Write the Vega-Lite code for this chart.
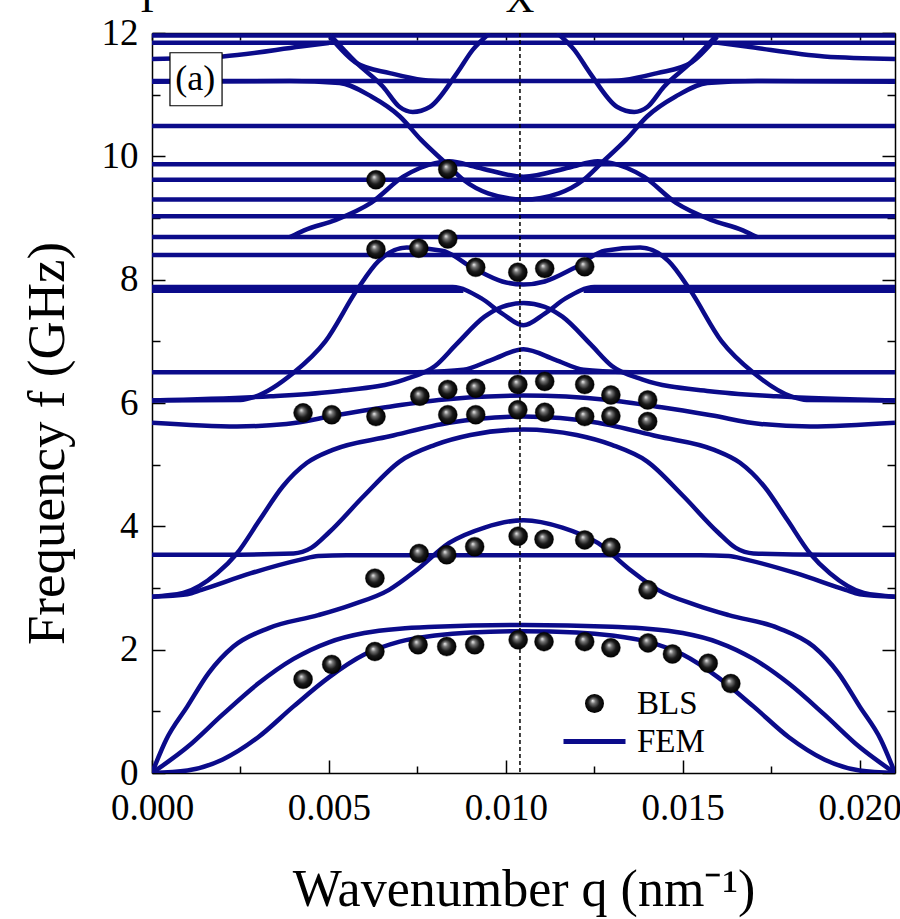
{
"$schema": "https://vega.github.io/schema/vega-lite/v6.json",
"width": 743, "height": 740,
"autosize": {"type": "none"},
"padding": {"left": 152, "top": 33, "right": 5, "bottom": 146},
"background": "white",
"config": {"view": {"stroke": null}, "font": "Liberation Serif",
"axis": {"labelFont": "Liberation Serif", "titleFont": "Liberation Serif"},
"legend": {"labelFont": "Liberation Serif", "titleFont": "Liberation Serif"},
"text": {"font": "Liberation Serif"}},
"datasets": {
"fem": [
{"p":"b1","q":0,"f":0},{"p":"b1","q":0.001,"f":0.04},{"p":"b1","q":0.002,"f":0.22},{"p":"b1","q":0.003,"f":0.58},{"p":"b1","q":0.004,"f":1.08},{"p":"b1","q":0.005,"f":1.55},{"p":"b1","q":0.006,"f":1.92},{"p":"b1","q":0.007,"f":2.13},{"p":"b1","q":0.008,"f":2.23},{"p":"b1","q":0.009,"f":2.28},{"p":"b1","q":0.0105,"f":2.30},{"p":"b1","q":0.012,"f":2.28},{"p":"b1","q":0.013,"f":2.23},{"p":"b1","q":0.014,"f":2.13},{"p":"b1","q":0.015,"f":1.92},{"p":"b1","q":0.016,"f":1.55},{"p":"b1","q":0.017,"f":1.08},{"p":"b1","q":0.018,"f":0.58},{"p":"b1","q":0.019,"f":0.22},{"p":"b1","q":0.020,"f":0.04},{"p":"b1","q":0.021,"f":0},
{"p":"b2","q":0,"f":0},{"p":"b2","q":0.001,"f":0.42},{"p":"b2","q":0.002,"f":0.95},{"p":"b2","q":0.003,"f":1.45},{"p":"b2","q":0.004,"f":1.85},{"p":"b2","q":0.005,"f":2.12},{"p":"b2","q":0.006,"f":2.27},{"p":"b2","q":0.007,"f":2.34},{"p":"b2","q":0.008,"f":2.37},{"p":"b2","q":0.0105,"f":2.40},{"p":"b2","q":0.013,"f":2.37},{"p":"b2","q":0.014,"f":2.34},{"p":"b2","q":0.015,"f":2.27},{"p":"b2","q":0.016,"f":2.12},{"p":"b2","q":0.017,"f":1.85},{"p":"b2","q":0.018,"f":1.45},{"p":"b2","q":0.019,"f":0.95},{"p":"b2","q":0.020,"f":0.42},{"p":"b2","q":0.021,"f":0},
{"p":"b3","q":0,"f":0},{"p":"b3","q":0.0004,"f":0.54},{"p":"b3","q":0.001,"f":1.08},{"p":"b3","q":0.0016,"f":1.62},{"p":"b3","q":0.0023,"f":2.05},{"p":"b3","q":0.0033,"f":2.35},{"p":"b3","q":0.0047,"f":2.56},{"p":"b3","q":0.0056,"f":2.72},{"p":"b3","q":0.0067,"f":2.97},{"p":"b3","q":0.0075,"f":3.30},{"p":"b3","q":0.0084,"f":3.73},{"p":"b3","q":0.0094,"f":3.98},{"p":"b3","q":0.0105,"f":4.10},{"p":"b3","q":0.0116,"f":3.98},{"p":"b3","q":0.0126,"f":3.73},{"p":"b3","q":0.0135,"f":3.30},{"p":"b3","q":0.0143,"f":2.97},{"p":"b3","q":0.0154,"f":2.72},{"p":"b3","q":0.0163,"f":2.56},{"p":"b3","q":0.0177,"f":2.35},{"p":"b3","q":0.0187,"f":2.05},{"p":"b3","q":0.0194,"f":1.62},{"p":"b3","q":0.020,"f":1.08},{"p":"b3","q":0.0206,"f":0.54},{"p":"b3","q":0.021,"f":0},
{"p":"b4","q":0,"f":2.86},{"p":"b4","q":0.001,"f":2.90},{"p":"b4","q":0.0014,"f":2.97},{"p":"b4","q":0.0028,"f":3.24},{"p":"b4","q":0.0042,"f":3.46},{"p":"b4","q":0.0047,"f":3.52},{"p":"b4","q":0.0055,"f":3.53},{"p":"b4","q":0.0155,"f":3.53},{"p":"b4","q":0.0163,"f":3.52},{"p":"b4","q":0.0168,"f":3.46},{"p":"b4","q":0.0182,"f":3.24},{"p":"b4","q":0.0196,"f":2.97},{"p":"b4","q":0.020,"f":2.90},{"p":"b4","q":0.021,"f":2.86},
{"p":"b5","q":0,"f":3.54},{"p":"b5","q":0.002,"f":3.54},{"p":"b5","q":0.004,"f":3.56},{"p":"b5","q":0.0045,"f":3.65},{"p":"b5","q":0.005,"f":3.90},{"p":"b5","q":0.006,"f":4.50},{"p":"b5","q":0.007,"f":5.05},{"p":"b5","q":0.008,"f":5.32},{"p":"b5","q":0.009,"f":5.48},{"p":"b5","q":0.0105,"f":5.57},{"p":"b5","q":0.012,"f":5.48},{"p":"b5","q":0.013,"f":5.32},{"p":"b5","q":0.014,"f":5.05},{"p":"b5","q":0.015,"f":4.50},{"p":"b5","q":0.016,"f":3.90},{"p":"b5","q":0.0165,"f":3.65},{"p":"b5","q":0.017,"f":3.56},{"p":"b5","q":0.019,"f":3.54},{"p":"b5","q":0.021,"f":3.54},
{"p":"b6","q":0,"f":2.86},{"p":"b6","q":0.00088,"f":2.92},{"p":"b6","q":0.00184,"f":3.24},{"p":"b6","q":0.0024,"f":3.56},{"p":"b6","q":0.00305,"f":4.11},{"p":"b6","q":0.0037,"f":4.65},{"p":"b6","q":0.00438,"f":5.03},{"p":"b6","q":0.00511,"f":5.24},{"p":"b6","q":0.00672,"f":5.46},{"p":"b6","q":0.0084,"f":5.68},{"p":"b6","q":0.0105,"f":5.78},{"p":"b6","q":0.0126,"f":5.68},{"p":"b6","q":0.01428,"f":5.46},{"p":"b6","q":0.01589,"f":5.24},{"p":"b6","q":0.01662,"f":5.03},{"p":"b6","q":0.0173,"f":4.65},{"p":"b6","q":0.01795,"f":4.11},{"p":"b6","q":0.0186,"f":3.56},{"p":"b6","q":0.01916,"f":3.24},{"p":"b6","q":0.02012,"f":2.92},{"p":"b6","q":0.021,"f":2.86},
{"p":"b7","q":0,"f":5.68},{"p":"b7","q":0.0024,"f":5.62},{"p":"b7","q":0.0038,"f":5.66},{"p":"b7","q":0.0052,"f":5.80},{"p":"b7","q":0.0066,"f":5.93},{"p":"b7","q":0.0081,"f":6.05},{"p":"b7","q":0.0105,"f":6.12},{"p":"b7","q":0.0129,"f":6.05},{"p":"b7","q":0.0144,"f":5.93},{"p":"b7","q":0.0158,"f":5.80},{"p":"b7","q":0.0172,"f":5.66},{"p":"b7","q":0.0186,"f":5.62},{"p":"b7","q":0.021,"f":5.68},
{"p":"f65","q":0,"f":6.50},{"p":"f65","q":0.021,"f":6.50},
{"p":"bA","q":0,"f":6.04},{"p":"bA","q":0.0025,"f":6.05},{"p":"bA","q":0.0029,"f":6.10},{"p":"bA","q":0.004,"f":6.49},{"p":"bA","q":0.0049,"f":7.0},{"p":"bA","q":0.0058,"f":7.84},{"p":"bA","q":0.0064,"f":8.30},{"p":"bA","q":0.0072,"f":8.52},{"p":"bA","q":0.0082,"f":8.47},{"p":"bA","q":0.0091,"f":8.18},{"p":"bA","q":0.0099,"f":7.97},{"p":"bA","q":0.0105,"f":7.92},{"p":"bA","q":0.0111,"f":7.97},{"p":"bA","q":0.0119,"f":8.18},{"p":"bA","q":0.0128,"f":8.47},{"p":"bA","q":0.0138,"f":8.52},{"p":"bA","q":0.0146,"f":8.30},{"p":"bA","q":0.0152,"f":7.84},{"p":"bA","q":0.0161,"f":7.0},{"p":"bA","q":0.017,"f":6.49},{"p":"bA","q":0.0181,"f":6.10},{"p":"bA","q":0.0185,"f":6.05},{"p":"bA","q":0.021,"f":6.04},
{"p":"bB","q":0,"f":6.04},{"p":"bB","q":0.00335,"f":6.11},{"p":"bB","q":0.00524,"f":6.19},{"p":"bB","q":0.00713,"f":6.38},{"p":"bB","q":0.008,"f":6.60},{"p":"bB","q":0.0086,"f":6.95},{"p":"bB","q":0.0094,"f":7.40},{"p":"bB","q":0.0099,"f":7.56},{"p":"bB","q":0.0105,"f":7.62},{"p":"bB","q":0.0111,"f":7.56},{"p":"bB","q":0.0116,"f":7.40},{"p":"bB","q":0.0124,"f":6.95},{"p":"bB","q":0.013,"f":6.60},{"p":"bB","q":0.01387,"f":6.38},{"p":"bB","q":0.01576,"f":6.19},{"p":"bB","q":0.01765,"f":6.11},{"p":"bB","q":0.021,"f":6.04},
{"p":"hump","q":0.0075,"f":6.50},{"p":"hump","q":0.0088,"f":6.54},{"p":"hump","q":0.0096,"f":6.70},{"p":"hump","q":0.0105,"f":6.87},{"p":"hump","q":0.0114,"f":6.70},{"p":"hump","q":0.0122,"f":6.54},{"p":"hump","q":0.0135,"f":6.50},
{"p":"bC","q":0,"f":7.88},{"p":"bC","q":0.0085,"f":7.88},{"p":"bC","q":0.0093,"f":7.70},{"p":"bC","q":0.0099,"f":7.45},{"p":"bC","q":0.0105,"f":7.26},{"p":"bC","q":0.0111,"f":7.45},{"p":"bC","q":0.0117,"f":7.70},{"p":"bC","q":0.0125,"f":7.88},{"p":"bC","q":0.021,"f":7.88},
{"p":"f782a","q":0,"f":7.82},{"p":"f782a","q":0.0088,"f":7.82},
{"p":"f782b","q":0.0122,"f":7.82},{"p":"f782b","q":0.021,"f":7.82},
{"p":"f840","q":0,"f":8.40},{"p":"f840","q":0.021,"f":8.40},
{"p":"f869","q":0,"f":8.69},{"p":"f869","q":0.021,"f":8.69},
{"p":"bE","q":0.0039,"f":8.69},{"p":"bE","q":0.0043,"f":8.80},{"p":"bE","q":0.0052,"f":8.97},{"p":"bE","q":0.0062,"f":9.25},{"p":"bE","q":0.0071,"f":9.67},{"p":"bE","q":0.008,"f":9.89},{"p":"bE","q":0.0084,"f":9.92},{"p":"bE","q":0.0092,"f":9.82},{"p":"bE","q":0.0105,"f":9.67},{"p":"bE","q":0.0118,"f":9.82},{"p":"bE","q":0.0126,"f":9.92},{"p":"bE","q":0.013,"f":9.89},{"p":"bE","q":0.0139,"f":9.67},{"p":"bE","q":0.0148,"f":9.25},{"p":"bE","q":0.0158,"f":8.97},{"p":"bE","q":0.0167,"f":8.80},{"p":"bE","q":0.0171,"f":8.69},
{"p":"f903","q":0,"f":9.03},{"p":"f903","q":0.021,"f":9.03},
{"p":"f930","q":0,"f":9.30},{"p":"f930","q":0.021,"f":9.30},
{"p":"f962","q":0,"f":9.62},{"p":"f962","q":0.021,"f":9.62},
{"p":"f987","q":0,"f":9.87},{"p":"f987","q":0.021,"f":9.87},
{"p":"f1049","q":0,"f":10.49},{"p":"f1049","q":0.021,"f":10.49},
{"p":"f1122","q":0,"f":11.22},{"p":"f1122","q":0.021,"f":11.22},
{"p":"bD","q":0,"f":11.21},{"p":"bD","q":0.0039,"f":11.22},{"p":"bD","q":0.0053,"f":11.19},{"p":"bD","q":0.0062,"f":10.97},{"p":"bD","q":0.007,"f":10.65},{"p":"bD","q":0.0076,"f":10.27},{"p":"bD","q":0.0083,"f":9.89},{"p":"bD","q":0.0088,"f":9.62},{"p":"bD","q":0.0095,"f":9.40},{"p":"bD","q":0.0105,"f":9.30},{"p":"bD","q":0.0115,"f":9.40},{"p":"bD","q":0.0122,"f":9.62},{"p":"bD","q":0.0127,"f":9.89},{"p":"bD","q":0.0134,"f":10.27},{"p":"bD","q":0.014,"f":10.65},{"p":"bD","q":0.0148,"f":10.97},{"p":"bD","q":0.0157,"f":11.19},{"p":"bD","q":0.0171,"f":11.22},{"p":"bD","q":0.021,"f":11.21},
{"p":"bU1","q":0.00503,"f":11.97},{"p":"bU1","q":0.00579,"f":11.51},{"p":"bU1","q":0.00653,"f":11.13},{"p":"bU1","q":0.007,"f":10.80},{"p":"bU1","q":0.00737,"f":10.72},{"p":"bU1","q":0.00785,"f":10.80},{"p":"bU1","q":0.00862,"f":11.35},{"p":"bU1","q":0.00907,"f":11.73},{"p":"bU1","q":0.00955,"f":12.0},
{"p":"bU2","q":0.01145,"f":12.0},{"p":"bU2","q":0.01193,"f":11.73},{"p":"bU2","q":0.01238,"f":11.35},{"p":"bU2","q":0.01315,"f":10.80},{"p":"bU2","q":0.01363,"f":10.72},{"p":"bU2","q":0.014,"f":10.80},{"p":"bU2","q":0.01447,"f":11.13},{"p":"bU2","q":0.01521,"f":11.51},{"p":"bU2","q":0.01597,"f":11.97},
{"p":"bT1","q":0.00503,"f":11.94},{"p":"bT1","q":0.00579,"f":11.51},{"p":"bT1","q":0.00672,"f":11.35},{"p":"bT1","q":0.00766,"f":11.24},{"p":"bT1","q":0.0084,"f":11.22},
{"p":"bT2","q":0.0126,"f":11.22},{"p":"bT2","q":0.01334,"f":11.24},{"p":"bT2","q":0.01428,"f":11.35},{"p":"bT2","q":0.01521,"f":11.51},{"p":"bT2","q":0.01597,"f":11.94},
{"p":"bL1","q":0,"f":11.58},{"p":"bL1","q":0.002,"f":11.62},{"p":"bL1","q":0.0042,"f":11.78},{"p":"bL1","q":0.005,"f":11.84},
{"p":"bL2","q":0.016,"f":11.84},{"p":"bL2","q":0.0168,"f":11.78},{"p":"bL2","q":0.019,"f":11.62},{"p":"bL2","q":0.021,"f":11.58},
{"p":"f1184","q":0,"f":11.84},{"p":"f1184","q":0.021,"f":11.84},
{"p":"f1196","q":0,"f":11.96},{"p":"f1196","q":0.021,"f":11.96}
],
"bls": [
{"q":0.00427,"f":1.52},{"q":0.00508,"f":1.76},{"q":0.0063,"f":1.97},{"q":0.00752,"f":2.08},{"q":0.00833,"f":2.05},{"q":0.00912,"f":2.08},{"q":0.01035,"f":2.16},{"q":0.01108,"f":2.13},{"q":0.01223,"f":2.13},{"q":0.01297,"f":2.03},{"q":0.01402,"f":2.11},{"q":0.01471,"f":1.93},{"q":0.01572,"f":1.78},{"q":0.01636,"f":1.45},
{"q":0.0063,"f":3.16},{"q":0.00755,"f":3.56},{"q":0.00833,"f":3.54},{"q":0.00912,"f":3.67},{"q":0.01035,"f":3.84},{"q":0.01108,"f":3.79},{"q":0.01223,"f":3.78},{"q":0.01297,"f":3.66},{"q":0.01402,"f":2.97},
{"q":0.00427,"f":5.84},{"q":0.00508,"f":5.81},{"q":0.00633,"f":5.78},{"q":0.00836,"f":5.81},{"q":0.00915,"f":5.81},{"q":0.01034,"f":5.89},{"q":0.0111,"f":5.85},{"q":0.01223,"f":5.78},{"q":0.01297,"f":5.79},{"q":0.01401,"f":5.70},
{"q":0.00757,"f":6.11},{"q":0.00836,"f":6.22},{"q":0.00915,"f":6.24},{"q":0.01034,"f":6.30},{"q":0.0111,"f":6.35},{"q":0.01223,"f":6.30},{"q":0.01297,"f":6.13},{"q":0.01401,"f":6.05},
{"q":0.00633,"f":8.49},{"q":0.00754,"f":8.51},{"q":0.00836,"f":8.66},{"q":0.00915,"f":8.20},{"q":0.01034,"f":8.12},{"q":0.0111,"f":8.18},{"q":0.01223,"f":8.21},
{"q":0.00633,"f":9.62},{"q":0.00836,"f":9.79}
]
},
"layer": [
{
"data": {"name": "fem"},
"mark": {"type": "line", "strokeWidth": 4.5, "interpolate": "monotone", "clip": true},
"encoding": {
"x": {"field": "q", "type": "quantitative", "scale": {"domain": [0, 0.021], "nice": false, "zero": false},
"axis": {"orient": "bottom", "values": [0,0.0025,0.005,0.0075,0.01,0.0125,0.015,0.0175,0.02],
"labelExpr": "round(datum.value*400) % 2 === 0 ? format(datum.value, '.3f') : ''",
"tickSize": {"condition": {"test": "round(datum.value*400) % 2 === 0", "value": -13}, "value": -7},
"tickColor": "black", "tickWidth": 1.5, "domainColor": "black", "domainWidth": 1.5, "grid": false,
"labelFont": "Liberation Serif", "labelFontSize": 37, "labelColor": "black", "labelPadding": 30, "labelDx": -8,
"labelOverlap": false, "labelFlush": false, "labelBound": false,
"title": "Wavenumber q (nm⁻¹)", "titleFont": "Liberation Serif", "titleFontSize": 52, "titleFontWeight": "normal", "titleColor": "black",
"titleBaseline": "alphabetic", "titleY": 132, "titleX": 371.5, "titleAlign": "center"}},
"y": {"field": "f", "type": "quantitative", "scale": {"domain": [0, 12], "nice": false, "zero": false},
"axis": {"orient": "left", "values": [0,1,2,3,4,5,6,7,8,9,10,11,12],
"labelExpr": "datum.value % 2 === 0 ? datum.label : ''",
"tickSize": {"condition": {"test": "datum.value % 2 === 0", "value": -13}, "value": -8},
"tickColor": "black", "tickWidth": 1.5, "domainColor": "black", "domainWidth": 1.5, "grid": false,
"labelFont": "Liberation Serif", "labelFontSize": 37, "labelColor": "black", "labelPadding": 27,
"labelOverlap": false, "labelFlush": false, "labelBound": false,
"title": "Frequency f (GHz)", "titleFont": "Liberation Serif", "titleFontSize": 53, "titleFontWeight": "normal", "titleColor": "black",
"titleBaseline": "alphabetic", "titleAngle": -90, "titleX": -89, "titleY": 410, "titleAlign": "center"}},
"detail": {"field": "p"},
"stroke": {"datum": "FEM", "type": "nominal", "scale": {"domain": ["BLS", "FEM"], "range": ["#000000", "#0b0b8a"]},
"legend": {"orient": "none", "legendX": 426, "legendY": 654, "title": null,
"labelFont": "Liberation Serif", "labelFontSize": 33, "labelColor": "black", "labelOffset": 26,
"symbolSize": 400, "symbolStrokeWidth": 1.5, "rowPadding": 4, "padding": 0,
"encode": {"symbols": {"update": {
"shape": {"signal": "datum.value === 'FEM' ? 'stroke' : 'circle'"},
"size": {"signal": "datum.value === 'FEM' ? 3844 : 361"},
"strokeWidth": {"signal": "datum.value === 'FEM' ? 5 : 0"},
"stroke": {"signal": "datum.value === 'FEM' ? '#0b0b8a' : 'black'"},
"fill": {"signal": "datum.value === 'FEM' ? 'transparent' : {gradient: 'radial', x1: 0.4, y1: 0.35, r1: 0, x2: 0.5, y2: 0.5, r2: 0.5, stops: [{offset: 0, color: '#f5f5f5'}, {offset: 0.25, color: '#777777'}, {offset: 0.6, color: '#1a1a1a'}, {offset: 1, color: '#000000'}]}"},
"opacity": {"value": 1}
}},
"labels": {"update": {"font": {"value": "Liberation Serif"}}}}}}
}
},
{
"data": {"values": [{}]},
"mark": {"type": "rule", "strokeDash": [4, 3], "strokeWidth": 1.5, "color": "black"},
"encoding": {"x": {"datum": 0.0104, "type": "quantitative", "axis": null}}
},
{
"data": {"name": "bls"},
"mark": {"type": "point", "filled": true, "size": 361, "opacity": 1, "strokeWidth": 0.4,
"fill": {"gradient": "radial", "x1": 0.4, "y1": 0.35, "r1": 0, "x2": 0.5, "y2": 0.5, "r2": 0.5,
"stops": [{"offset": 0, "color": "#f5f5f5"}, {"offset": 0.25, "color": "#777777"}, {"offset": 0.6, "color": "#1a1a1a"}, {"offset": 1, "color": "#000000"}]}},
"encoding": {
"x": {"field": "q", "type": "quantitative", "axis": {"orient": "top", "values": [0,0.0025,0.005,0.0075,0.01,0.0125,0.015,0.0175,0.02], "labels": false, "title": null, "tickSize": -7, "tickColor": "black", "tickWidth": 1.5, "domainColor": "black", "domainWidth": 1.5, "grid": false}},
"y": {"field": "f", "type": "quantitative", "axis": {"orient": "right", "values": [0,1,2,3,4,5,6,7,8,9,10,11,12], "labels": false, "title": null, "tickSize": {"condition": {"test": "datum.value % 2 === 0", "value": -13}, "value": -8}, "tickColor": "black", "tickWidth": 1.5, "domainColor": "black", "domainWidth": 1.5, "grid": false}},
"stroke": {"datum": "BLS", "type": "nominal"}
}
},
{
"data": {"values": [{}]},
"mark": {"type": "rect", "fill": "white", "stroke": "black", "strokeWidth": 1.2},
"encoding": {"x": {"datum": 0.000508, "type": "quantitative", "axis": null}, "x2": {"datum": 0.00198}, "y": {"datum": 11.68, "type": "quantitative", "axis": null}, "y2": {"datum": 10.82}}
},
{
"data": {"values": [{}]},
"mark": {"type": "text", "text": "(a)", "font": "Liberation Serif", "fontSize": 36, "align": "center", "baseline": "middle", "color": "black"},
"encoding": {"x": {"datum": 0.00122, "type": "quantitative", "axis": null}, "y": {"datum": 11.25, "type": "quantitative", "axis": null}}
},
{
"data": {"values": [{}]},
"mark": {"type": "text", "text": "X", "font": "Liberation Serif", "fontSize": 40, "align": "center", "baseline": "alphabetic", "dy": -21, "color": "black"},
"encoding": {"x": {"datum": 0.0104, "type": "quantitative", "axis": null}, "y": {"datum": 12, "type": "quantitative", "axis": null}}
},
{
"data": {"values": [{}]},
"mark": {"type": "text", "text": "Γ", "font": "Liberation Serif", "fontSize": 40, "align": "center", "baseline": "alphabetic", "dy": -21, "color": "black"},
"encoding": {"x": {"datum": 0, "type": "quantitative", "axis": null}, "y": {"datum": 12, "type": "quantitative", "axis": null}}
}
],
"resolve": {"axis": {"x": "independent", "y": "independent"}}
}
